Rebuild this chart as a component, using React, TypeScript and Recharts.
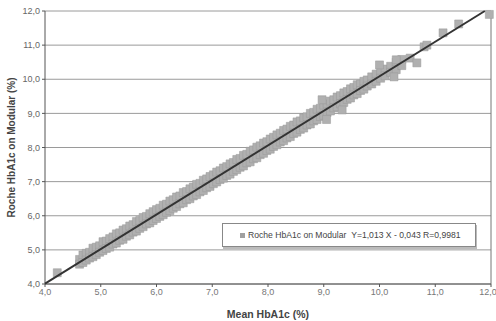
import {
  ScatterChart,
  Scatter,
  XAxis,
  YAxis,
  ZAxis,
  CartesianGrid,
  ReferenceLine,
} from 'recharts';

// Mean HbA1c (x) vs Roche HbA1c on Modular (y)
const meanHbA1c = [
  4.22, 4.62, 4.62, 4.68, 4.68, 4.74, 4.74, 4.8, 4.8, 4.86, 4.86, 4.92, 4.92, 4.98, 4.98,
  5.04, 5.04, 5.1, 5.1, 5.16, 5.16, 5.22, 5.22, 5.28, 5.28, 5.34, 5.34, 5.4, 5.4, 5.46, 5.46,
  5.52, 5.52, 5.58, 5.58, 5.64, 5.64, 5.7, 5.7, 5.76, 5.76, 5.82, 5.82, 5.88, 5.88, 5.94, 5.94,
  6.0, 6.0, 6.06, 6.06, 6.12, 6.12, 6.18, 6.18, 6.24, 6.24, 6.3, 6.3, 6.36, 6.36, 6.42, 6.42,
  6.48, 6.48, 6.54, 6.54, 6.6, 6.6, 6.66, 6.66, 6.72, 6.72, 6.78, 6.78, 6.84, 6.84, 6.9, 6.9,
  6.96, 6.96, 7.02, 7.02, 7.08, 7.08, 7.14, 7.14, 7.2, 7.2, 7.26, 7.26, 7.32, 7.32, 7.38, 7.38,
  7.44, 7.44, 7.5, 7.5, 7.56, 7.56, 7.62, 7.62, 7.68, 7.68, 7.74, 7.74, 7.8, 7.8, 7.86, 7.86,
  7.92, 7.92, 7.98, 7.98, 8.04, 8.04, 8.1, 8.1, 8.16, 8.16, 8.22, 8.22, 8.28, 8.28, 8.34, 8.34,
  8.4, 8.4, 8.46, 8.46, 8.52, 8.52, 8.58, 8.58, 8.64, 8.64, 8.7, 8.7, 8.76, 8.76, 8.82, 8.82,
  8.88, 8.88, 8.94, 8.94, 9.0, 9.0, 9.06, 9.06, 9.12, 9.12, 9.18, 9.18, 9.24, 9.24, 9.3, 9.3,
  9.36, 9.36, 9.42, 9.42, 9.48, 9.48, 9.54, 9.54, 9.6, 9.6, 9.66, 9.66, 9.72, 9.72, 9.78, 9.78,
  9.86, 9.86, 9.94, 9.94, 10.02, 10.02, 10.1, 10.1, 10.2, 10.2, 10.3, 10.3, 10.4, 10.4,
  8.97, 9.33, 9.05, 10.0, 10.26, 10.3, 10.55, 10.67, 10.8, 10.85, 11.14, 11.42, 11.97,
];

const rocheHbA1c = [
  4.33, 4.72, 4.58, 4.85, 4.63, 4.9, 4.7, 4.93, 4.76, 5.05, 4.8, 5.08, 4.86, 5.12, 4.93,
  5.24, 4.98, 5.26, 5.04, 5.33, 5.08, 5.38, 5.17, 5.47, 5.2, 5.5, 5.28, 5.58, 5.31, 5.62, 5.4,
  5.7, 5.44, 5.74, 5.52, 5.83, 5.55, 5.86, 5.63, 5.95, 5.68, 5.98, 5.76, 6.06, 5.79, 6.12, 5.86,
  6.18, 5.92, 6.22, 5.98, 6.31, 6.03, 6.34, 6.1, 6.43, 6.15, 6.47, 6.22, 6.55, 6.27, 6.58, 6.35,
  6.68, 6.38, 6.71, 6.47, 6.79, 6.5, 6.84, 6.58, 6.92, 6.62, 6.95, 6.7, 7.04, 6.74, 7.08, 6.82,
  7.15, 6.86, 7.2, 6.94, 7.28, 6.99, 7.32, 7.06, 7.4, 7.1, 7.44, 7.18, 7.52, 7.22, 7.56, 7.3,
  7.65, 7.35, 7.68, 7.42, 7.77, 7.46, 7.8, 7.55, 7.89, 7.58, 7.93, 7.67, 8.01, 7.7, 8.05, 7.79,
  8.13, 7.83, 8.17, 7.91, 8.25, 7.95, 8.3, 8.03, 8.37, 8.08, 8.42, 8.16, 8.5, 8.2, 8.54, 8.28,
  8.62, 8.32, 8.66, 8.41, 8.75, 8.45, 8.78, 8.53, 8.87, 8.57, 8.9, 8.66, 9.0, 8.69, 9.03, 8.78,
  9.12, 8.82, 9.15, 8.91, 9.24, 8.94, 9.28, 9.03, 9.36, 9.07, 9.4, 9.16, 9.48, 9.19, 9.52, 9.28,
  9.6, 9.32, 9.64, 9.41, 9.72, 9.45, 9.76, 9.54, 9.84, 9.58, 9.86, 9.67, 9.94, 9.71, 9.98, 9.8,
  10.07, 9.86, 10.15, 9.94, 10.22, 10.03, 10.3, 10.1, 10.38, 10.2, 10.5, 10.28, 10.58, 10.4,
  9.4, 9.1, 8.82, 10.42, 10.07, 10.57, 10.62, 10.48, 10.95, 11.0, 11.36, 11.62, 11.9,
];

// regression Y = 1,013 X - 0,043, end points inside the axes
const fitX = [4, 11.889];
const fitY = [4.009, 12];

const ticks = [4, 5, 6, 7, 8, 9, 10, 11, 12];

const points = meanHbA1c.map((x, i) => ({ x, y: rocheHbA1c[i] }));
const fitLine = fitX.map((x, i) => ({ x, y: fitY[i] }));

const fmt = (v: number) => v.toFixed(1).replace('.', ',');
const font = '"Liberation Sans", Arial, sans-serif';

export default function App() {
  return (
    <div style={{ position: 'relative', width: 496, height: 321, background: '#fff', fontFamily: font }}>
      <style>{'body{margin:0}'}</style>
      <ScatterChart width={496} height={321} margin={{ top: 11, right: 5, bottom: 0, left: 0 }}>
        <CartesianGrid vertical={false} stroke="#9a9a9a" />
        <XAxis
          type="number"
          dataKey="x"
          domain={[4, 12]}
          ticks={ticks}
          tickFormatter={fmt}
          height={37}
          tickSize={3}
          tick={{ fontSize: 9, fill: '#777', fontFamily: font }}
          stroke="#555"
          label={{
            value: 'Mean HbA1c (%)',
            position: 'insideBottom',
            offset: 3,
            style: { fontSize: 10.5, fontWeight: 'bold', fill: '#444', fontFamily: font },
          }}
        />
        <YAxis
          type="number"
          dataKey="y"
          domain={[4, 12]}
          ticks={ticks}
          tickFormatter={fmt}
          width={45}
          tickSize={3}
          tick={{ fontSize: 9, fill: '#666', fontFamily: font }}
          stroke="#555"
          label={{
            value: 'Roche HbA1c on Modular (%)',
            angle: -90,
            position: 'insideLeft',
            offset: 11,
            style: { textAnchor: 'middle', fontSize: 10, fontWeight: 'bold', fill: '#444', fontFamily: font },
          }}
        />
        <ZAxis range={[16, 16]} />
        <ReferenceLine x={12} stroke="#777" />
        <Scatter
          data={points}
          shape="square"
          fill="#b0b0b0"
          stroke="#999"
          strokeWidth={0.5}
          isAnimationActive={false}
        />
        <Scatter
          data={fitLine}
          line={{ stroke: '#333', strokeWidth: 2 }}
          shape={() => <g />}
          isAnimationActive={false}
        />
      </ScatterChart>
      <div
        style={{
          position: 'absolute',
          left: 222,
          top: 223,
          width: 254,
          height: 24,
          border: '1px solid #888',
          boxShadow: '1px 2px 0 #bbb',
          background: '#fff',
          display: 'flex',
          alignItems: 'center',
          paddingLeft: 17,
          boxSizing: 'border-box',
          fontSize: 8.6,
          color: '#444',
          whiteSpace: 'nowrap',
        }}
      >
        <span style={{ display: 'inline-block', width: 5, height: 5, background: '#a0a0a0', marginRight: 3 }} />
        Roche HbA1c on Modular&nbsp;&nbsp;Y=1,013 X - 0,043 R=0,9981
      </div>
    </div>
  );
}
